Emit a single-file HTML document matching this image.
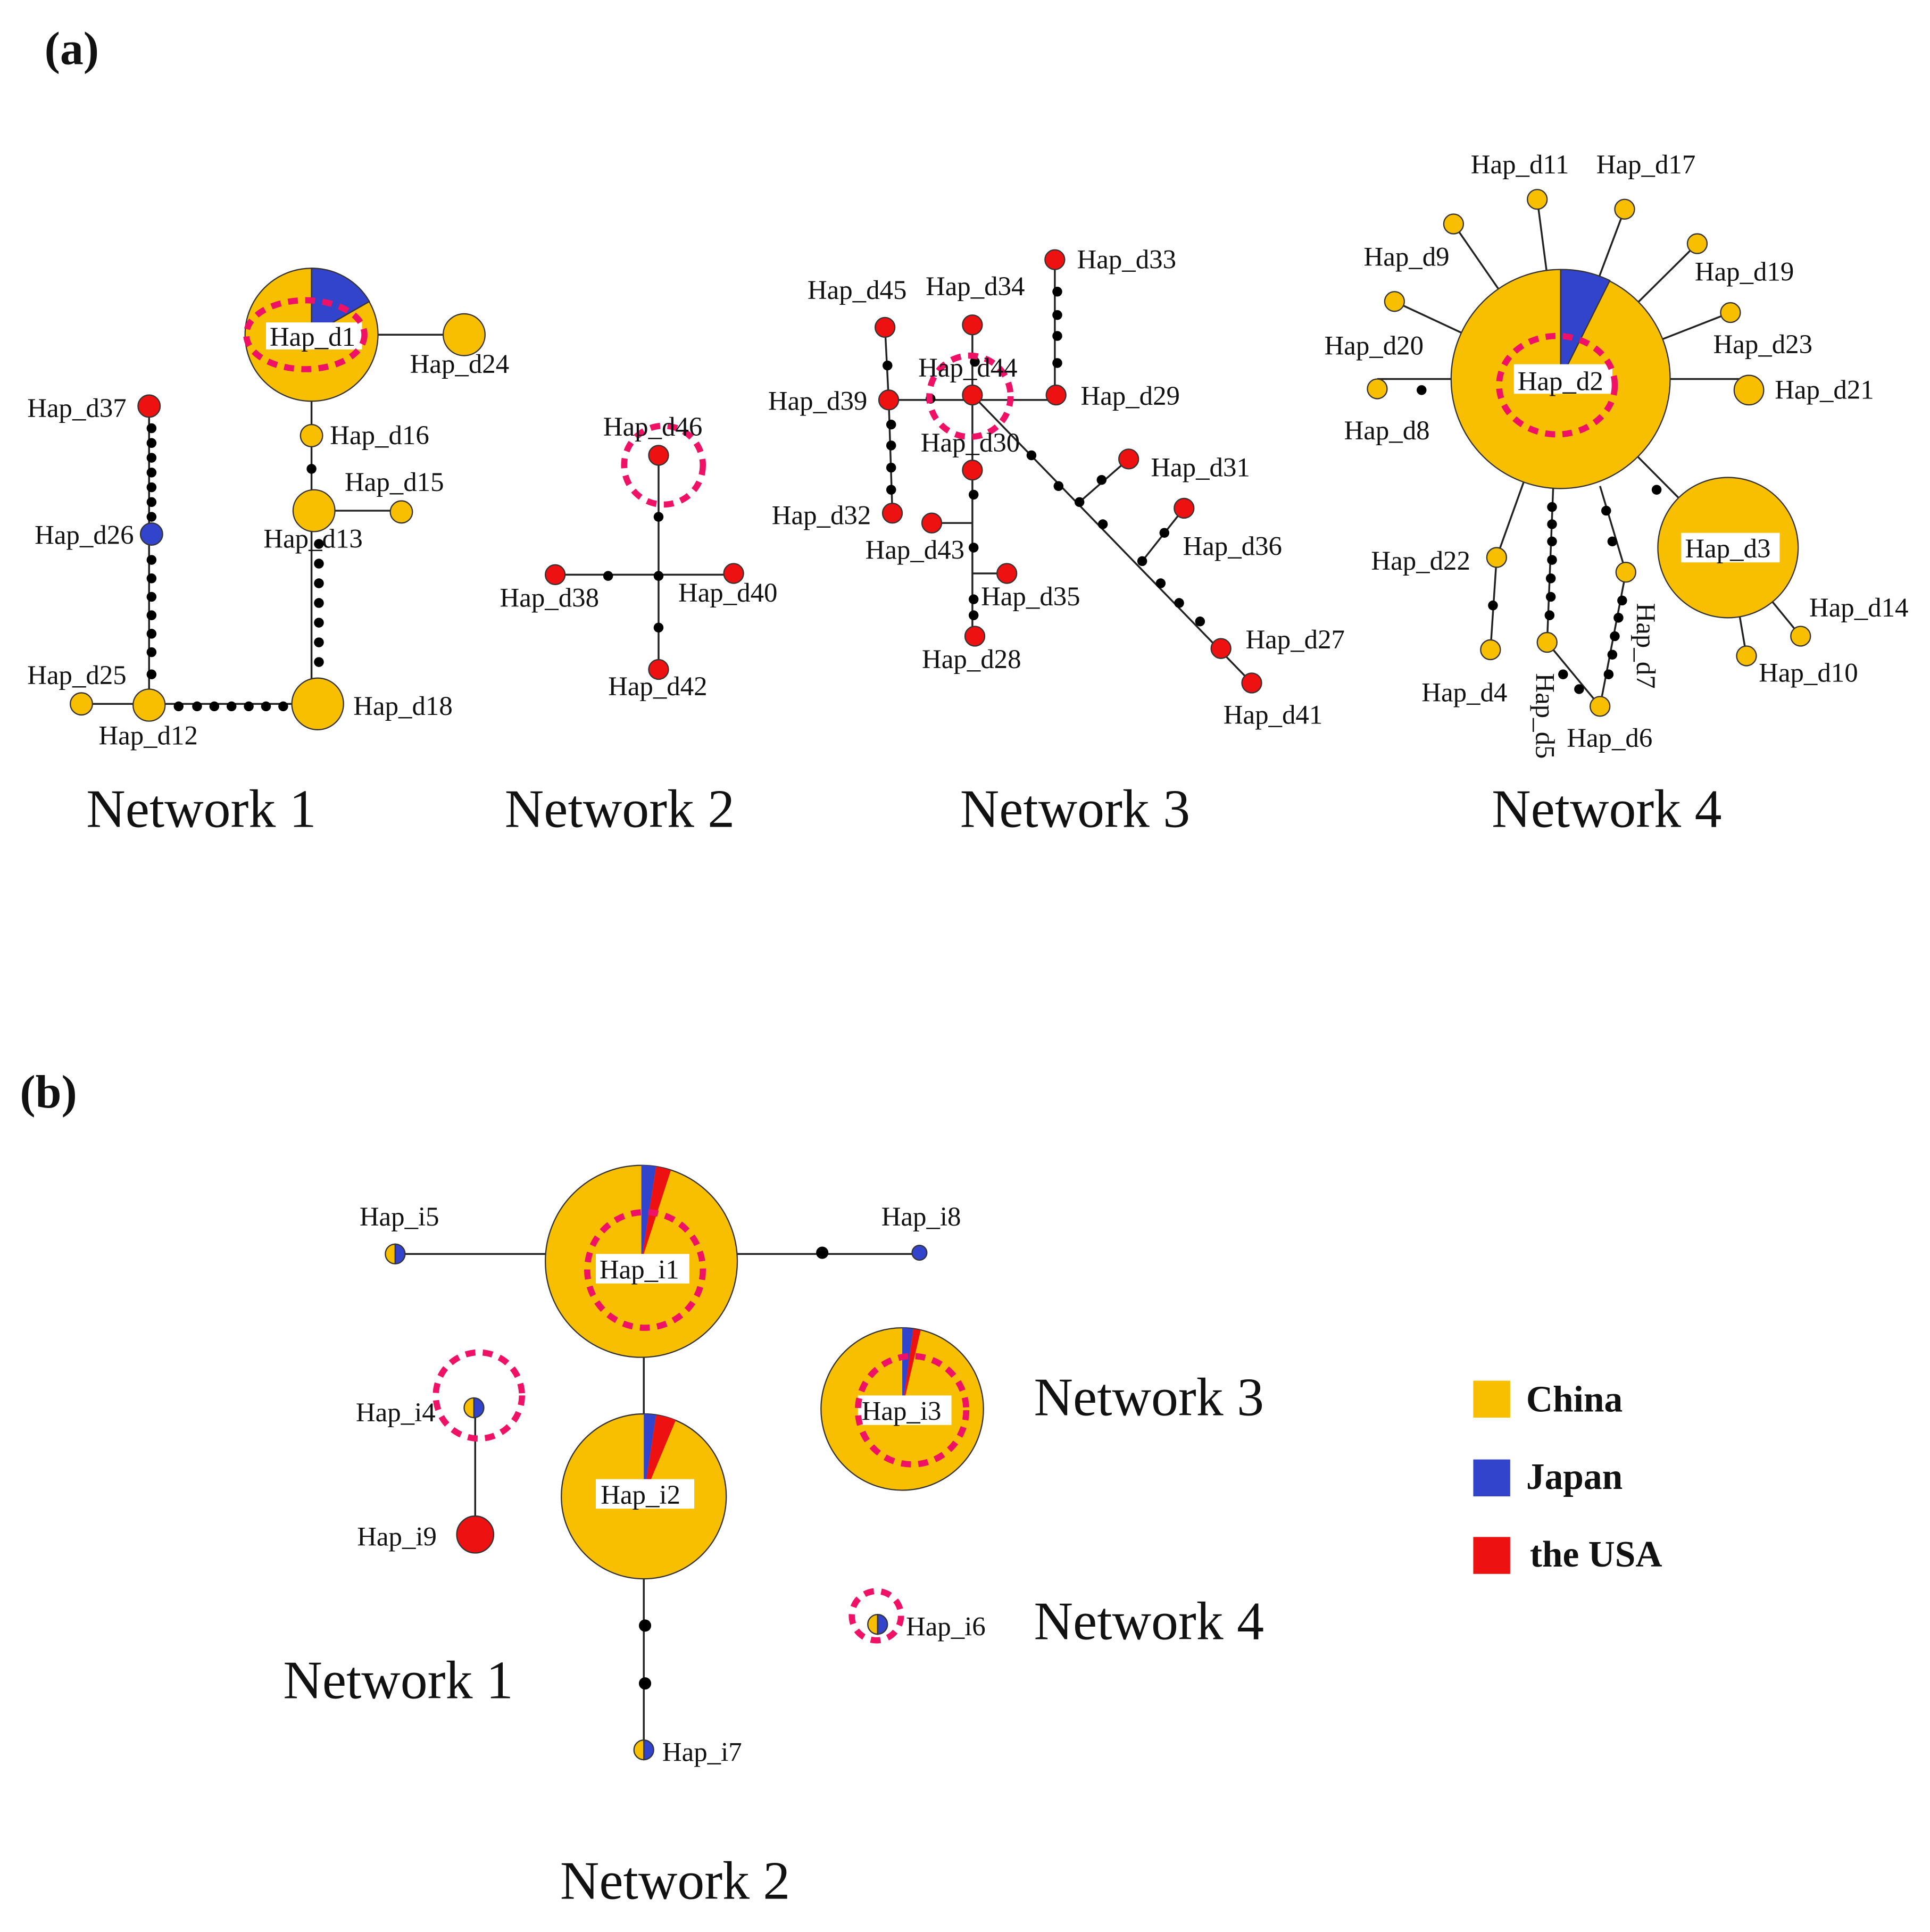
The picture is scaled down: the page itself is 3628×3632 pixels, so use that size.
<!DOCTYPE html>
<html><head><meta charset="utf-8"><style>html,body{margin:0;padding:0;background:#fff}svg{display:block}</style></head><body>
<svg width="3628" height="3632" viewBox="0 0 1568 1570" xmlns="http://www.w3.org/2000/svg" font-family="Liberation Serif, serif">
<defs><style>
.y{fill:#F8BE00;stroke:#333;stroke-width:1}
.r{fill:#EE1111;stroke:#333;stroke-width:1}
.b{fill:#3344CC;stroke:#333;stroke-width:1}
.l{stroke:#222;stroke-width:1.5;fill:none}
.p{fill:none;stroke:#EE1166;stroke-width:5;stroke-dasharray:8 6}
text{font-size:22px;fill:#111}
.n{font-size:44px}
</style></defs>
<text x="36" y="52" style="font-size:38px;font-weight:bold">(a)</text>
<text x="16" y="900" style="font-size:38px;font-weight:bold">(b)</text>

<!-- Network 1 (a) -->
<g class="l"><path d="M253 272H377M253 272V572M258 572H121M121 572V330M121 572H66M255 415H326"/></g>
<g fill="#000">
<circle cx="253" cy="381" r="4"/>
<circle cx="259" cy="442" r="4"/><circle cx="259" cy="458" r="4"/><circle cx="259" cy="474" r="4"/><circle cx="259" cy="490" r="4"/><circle cx="259" cy="506" r="4"/><circle cx="259" cy="522" r="4"/><circle cx="259" cy="538" r="4"/>
<circle cx="145" cy="574" r="4"/><circle cx="160" cy="574" r="4"/><circle cx="174" cy="574" r="4"/><circle cx="188" cy="574" r="4"/><circle cx="202" cy="574" r="4"/><circle cx="216" cy="574" r="4"/><circle cx="230" cy="574" r="4"/>
<circle cx="123" cy="348" r="4"/><circle cx="123" cy="360" r="4"/><circle cx="123" cy="372" r="4"/><circle cx="123" cy="384" r="4"/><circle cx="123" cy="396" r="4"/><circle cx="123" cy="408" r="4"/><circle cx="123" cy="420" r="4"/>
<circle cx="123" cy="455" r="4"/><circle cx="123" cy="470" r="4"/><circle cx="123" cy="485" r="4"/><circle cx="123" cy="500" r="4"/><circle cx="123" cy="515" r="4"/><circle cx="123" cy="530" r="4"/><circle cx="123" cy="548" r="4"/>
</g>
<circle class="y" cx="253" cy="272" r="54"/>
<path d="M253 272L253 218A54 54 0 0 1 300 245Z" fill="#3344CC" stroke="#333"/>
<rect x="216" y="262" width="78" height="22" fill="#fff"/>
<text x="219" y="281">Hap_d1</text>
<ellipse class="p" cx="248" cy="272" rx="48" ry="28"/>
<circle class="y" cx="377" cy="272" r="17"/>
<circle class="y" cx="253" cy="354" r="9"/>
<circle class="y" cx="255" cy="415" r="17"/>
<circle class="y" cx="326" cy="416" r="9"/>
<circle class="y" cx="258" cy="572" r="21"/>
<circle class="y" cx="121" cy="573" r="13"/>
<circle class="y" cx="66" cy="572" r="9"/>
<circle class="b" cx="123" cy="434" r="9"/>
<circle class="r" cx="121" cy="330" r="9"/>
<text x="333" y="303">Hap_d24</text><text x="268" y="361">Hap_d16</text><text x="280" y="399">Hap_d15</text><text x="214" y="445">Hap_d13</text>
<text x="287" y="581">Hap_d18</text><text x="80" y="605">Hap_d12</text><text x="22" y="556">Hap_d25</text><text x="28" y="442">Hap_d26</text><text x="22" y="339">Hap_d37</text>
<text x="70" y="672" class="n">Network 1</text>

<!-- Network 2 -->
<g class="l"><path d="M535 370V544M451 467H596"/></g>
<g fill="#000"><circle cx="535" cy="420" r="4"/><circle cx="535" cy="468" r="4"/><circle cx="494" cy="468" r="4"/><circle cx="535" cy="510" r="4"/></g>
<circle class="r" cx="535" cy="370" r="8"/><circle class="p" cx="539" cy="378" r="32"/>
<circle class="r" cx="451" cy="467" r="8"/><circle class="r" cx="596" cy="466" r="8"/><circle class="r" cx="535" cy="544" r="8"/>
<text x="490" y="354">Hap_d46</text><text x="406" y="493">Hap_d38</text><text x="551" y="489">Hap_d40</text><text x="494" y="565">Hap_d42</text>
<text x="410" y="672" class="n">Network 2</text>

<!-- Network 3 -->
<g class="l"><path d="M719 266L722 325L725 417M722 325H858M857 211V321M790 264V517M757 425H790M818 466H790M790 321L1017 555M877 408L917 373M928 456L962 413"/></g>
<g fill="#000">
<circle cx="721" cy="297" r="4"/><circle cx="756" cy="324" r="4"/><circle cx="792" cy="294" r="4"/>
<circle cx="859" cy="237" r="4"/><circle cx="859" cy="256" r="4"/><circle cx="859" cy="273" r="4"/><circle cx="859" cy="295" r="4"/>
<circle cx="724" cy="345" r="4"/><circle cx="724" cy="362" r="4"/><circle cx="724" cy="380" r="4"/><circle cx="724" cy="398" r="4"/>
<circle cx="791" cy="402" r="4"/><circle cx="791" cy="445" r="4"/><circle cx="791" cy="487" r="4"/><circle cx="791" cy="500" r="4"/>
<circle cx="838" cy="370" r="4"/><circle cx="860" cy="395" r="4"/><circle cx="877" cy="408" r="4"/><circle cx="896" cy="426" r="4"/><circle cx="928" cy="456" r="4"/><circle cx="943" cy="474" r="4"/><circle cx="958" cy="490" r="4"/><circle cx="975" cy="505" r="4"/>
<circle cx="895" cy="390" r="4"/><circle cx="946" cy="433" r="4"/>
</g>
<g class="r">
<circle cx="722" cy="325" r="8"/><circle cx="790" cy="321" r="8"/><circle cx="858" cy="321" r="8"/><circle cx="857" cy="211" r="8"/><circle cx="790" cy="264" r="8"/><circle cx="719" cy="266" r="8"/><circle cx="725" cy="417" r="8"/><circle cx="757" cy="425" r="8"/><circle cx="818" cy="466" r="8"/><circle cx="792" cy="517" r="8"/><circle cx="917" cy="373" r="8"/><circle cx="962" cy="413" r="8"/><circle cx="992" cy="527" r="8"/><circle cx="1017" cy="555" r="8"/><circle cx="790" cy="382" r="8"/>
</g>
<circle class="p" cx="788" cy="322" r="33"/>
<text x="875" y="218">Hap_d33</text><text x="752" y="240">Hap_d34</text><text x="656" y="243">Hap_d45</text><text x="746" y="306">Hap_d44</text>
<text x="624" y="333">Hap_d39</text><text x="878" y="329">Hap_d29</text><text x="748" y="367">Hap_d30</text><text x="935" y="387">Hap_d31</text>
<text x="627" y="426">Hap_d32</text><text x="703" y="454">Hap_d43</text><text x="961" y="451">Hap_d36</text><text x="797" y="492">Hap_d35</text>
<text x="1012" y="527">Hap_d27</text><text x="749" y="543">Hap_d28</text><text x="994" y="588">Hap_d41</text>
<text x="780" y="672" class="n">Network 3</text>

<!-- Network 4 -->
<g class="l"><path d="M1268 308L1249 162M1268 308L1320 170M1268 308L1181 182M1268 308L1379 198M1268 308L1133 245M1268 308L1406 254M1268 308H1119M1268 308H1421M1268 308L1216 453M1268 308L1404 445M1262 395L1257 522L1300 574M1300 395L1321 465L1300 574M1216 453L1211 528M1404 445L1463 517M1404 445L1419 533"/></g>
<g fill="#000">
<circle cx="1155" cy="317" r="4"/><circle cx="1346" cy="398" r="4"/><circle cx="1213" cy="492" r="4"/>
<circle cx="1261" cy="412" r="4"/><circle cx="1261" cy="426" r="4"/><circle cx="1261" cy="440" r="4"/><circle cx="1261" cy="455" r="4"/><circle cx="1260" cy="470" r="4"/><circle cx="1260" cy="485" r="4"/><circle cx="1259" cy="500" r="4"/>
<circle cx="1305" cy="415" r="4"/><circle cx="1310" cy="440" r="4"/>
<circle cx="1318" cy="488" r="4"/><circle cx="1315" cy="502" r="4"/><circle cx="1312" cy="517" r="4"/><circle cx="1310" cy="532" r="4"/><circle cx="1307" cy="548" r="4"/>
<circle cx="1270" cy="548" r="4"/><circle cx="1283" cy="560" r="4"/>
</g>
<circle class="y" cx="1268" cy="308" r="89"/>
<path d="M1268 308L1268 219A89 89 0 0 1 1308 228Z" fill="#3344CC" stroke="#333"/>
<rect x="1230" y="296" width="80" height="24" fill="#fff"/>
<text x="1233" y="317">Hap_d2</text>
<ellipse class="p" cx="1265" cy="313" rx="47" ry="40"/>
<circle class="y" cx="1404" cy="445" r="57"/>
<rect x="1366" y="433" width="80" height="24" fill="#fff"/>
<text x="1369" y="453">Hap_d3</text>
<g class="y">
<circle cx="1249" cy="162" r="8"/><circle cx="1320" cy="170" r="8"/><circle cx="1181" cy="182" r="8"/><circle cx="1379" cy="198" r="8"/><circle cx="1133" cy="245" r="8"/><circle cx="1406" cy="254" r="8"/><circle cx="1119" cy="316" r="8"/><circle cx="1421" cy="317" r="12"/><circle cx="1216" cy="453" r="8"/><circle cx="1211" cy="528" r="8"/><circle cx="1257" cy="522" r="8"/><circle cx="1300" cy="574" r="8"/><circle cx="1321" cy="465" r="8"/><circle cx="1463" cy="517" r="8"/><circle cx="1419" cy="533" r="8"/>
</g>
<text x="1195" y="141">Hap_d11</text><text x="1297" y="141">Hap_d17</text><text x="1108" y="216">Hap_d9</text><text x="1377" y="228">Hap_d19</text>
<text x="1076" y="288">Hap_d20</text><text x="1392" y="287">Hap_d23</text><text x="1442" y="324">Hap_d21</text><text x="1092" y="357">Hap_d8</text>
<text x="1114" y="463">Hap_d22</text><text x="1470" y="501">Hap_d14</text><text x="1429" y="554">Hap_d10</text><text x="1155" y="570">Hap_d4</text><text x="1273" y="607">Hap_d6</text>
<text transform="translate(1248 547) rotate(90)">Hap_d5</text>
<text transform="translate(1330 490) rotate(90)">Hap_d7</text>
<text x="1212" y="672" class="n">Network 4</text>

<!-- (b) -->
<g class="l"><path d="M321 1019H747M523 1025V1422M386 1144V1247"/></g>
<g fill="#000"><circle cx="668" cy="1018" r="5"/><circle cx="524" cy="1321" r="5"/><circle cx="524" cy="1368" r="5"/></g>
<circle class="y" cx="521" cy="1025" r="78"/>
<path d="M521 1025L521 947A78 78 0 0 1 533 948Z" fill="#3344CC"/>
<path d="M521 1025L533 948A78 78 0 0 1 545 951Z" fill="#EE1111"/>
<rect x="484" y="1019" width="76" height="24" fill="#fff"/><text x="487" y="1039">Hap_i1</text>
<circle class="p" cx="524" cy="1032" r="47"/>
<circle class="y" cx="523" cy="1216" r="67"/>
<path d="M523 1216L523 1149A67 67 0 0 1 533 1150Z" fill="#3344CC"/>
<path d="M523 1216L533 1150A67 67 0 0 1 549 1154Z" fill="#EE1111"/>
<rect x="484" y="1202" width="80" height="24" fill="#fff"/><text x="488" y="1222">Hap_i2</text>
<circle class="y" cx="733" cy="1145" r="66"/>
<path d="M733 1145L733 1079A66 66 0 0 1 742 1080Z" fill="#3344CC"/>
<path d="M733 1145L742 1080A66 66 0 0 1 748 1081Z" fill="#EE1111"/>
<rect x="697" y="1134" width="76" height="24" fill="#fff"/><text x="700" y="1154">Hap_i3</text>
<circle class="p" cx="741" cy="1146" r="44"/>
<g stroke="#333"><path d="M321 1011A8 8 0 0 0 321 1027Z" fill="#F8BE00"/><path d="M321 1011A8 8 0 0 1 321 1027Z" fill="#3344CC"/>
<path d="M385 1136A8 8 0 0 0 385 1152Z" fill="#F8BE00"/><path d="M385 1136A8 8 0 0 1 385 1152Z" fill="#3344CC"/>
<path d="M523 1414A8 8 0 0 0 523 1430Z" fill="#F8BE00"/><path d="M523 1414A8 8 0 0 1 523 1430Z" fill="#3344CC"/>
<path d="M713 1312A8 8 0 0 0 713 1328Z" fill="#F8BE00"/><path d="M713 1312A8 8 0 0 1 713 1328Z" fill="#3344CC"/></g>
<circle class="b" cx="747" cy="1018" r="6"/>
<circle class="r" cx="386" cy="1247" r="15"/>
<circle class="p" cx="389" cy="1134" r="35"/>
<circle class="p" cx="712" cy="1313" r="20"/>
<text x="292" y="996">Hap_i5</text><text x="716" y="996">Hap_i8</text><text x="289" y="1155">Hap_i4</text><text x="290" y="1256">Hap_i9</text>
<text x="736" y="1329">Hap_i6</text><text x="538" y="1431">Hap_i7</text>
<text x="840" y="1150" class="n">Network 3</text>
<text x="840" y="1332" class="n">Network 4</text>
<text x="230" y="1380" class="n">Network 1</text>
<text x="455" y="1543" class="n">Network 2</text>
<rect x="1197" y="1122" width="30" height="30" fill="#F8BE00"/>
<rect x="1197" y="1186" width="30" height="30" fill="#3344CC"/>
<rect x="1197" y="1249" width="30" height="30" fill="#EE1111"/>
<text x="1240" y="1147" style="font-size:30px;font-weight:bold">China</text>
<text x="1240" y="1210" style="font-size:30px;font-weight:bold">Japan</text>
<text x="1243" y="1273" style="font-size:30px;font-weight:bold">the USA</text>
</svg>
</body></html>
